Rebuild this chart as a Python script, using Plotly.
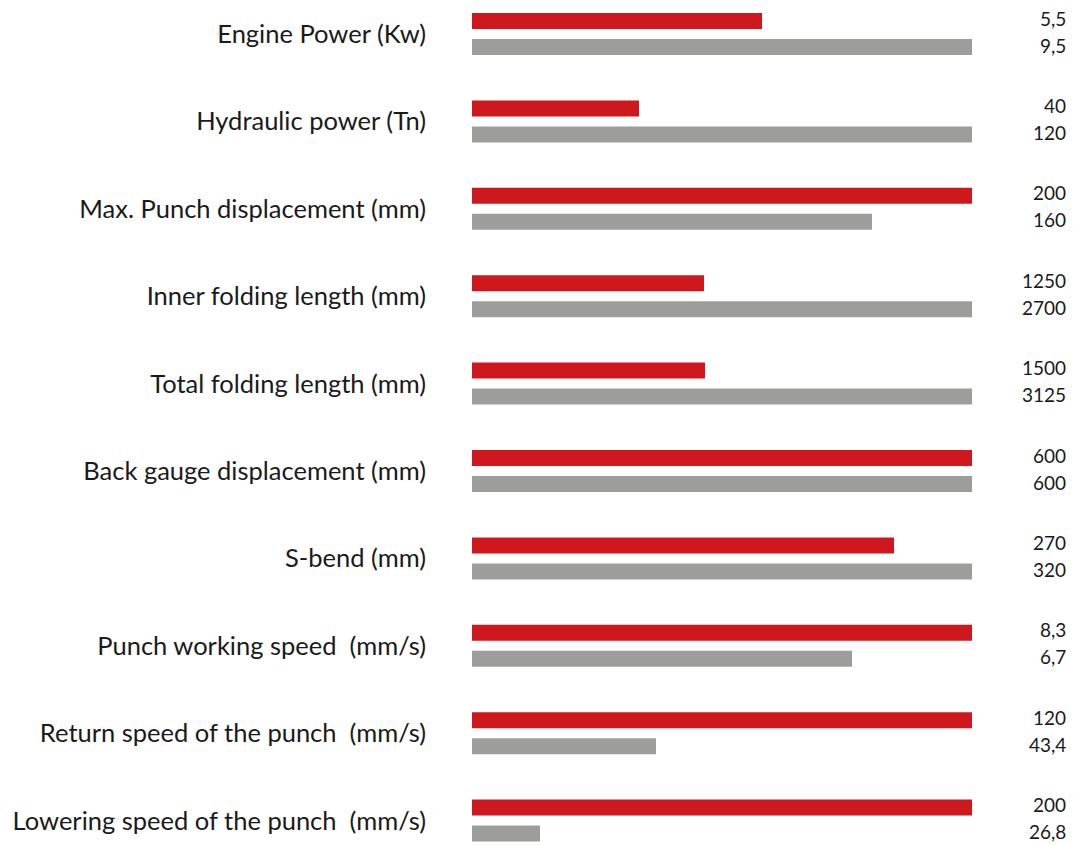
import plotly.graph_objects as go

categories = [
    "Engine Power (Kw)",
    "Hydraulic power (Tn)",
    "Max. Punch displacement (mm)",
    "Inner folding length (mm)",
    "Total folding length (mm)",
    "Back gauge displacement (mm)",
    "S-bend (mm)",
    "Punch working speed  (mm/s)",
    "Return speed of the punch  (mm/s)",
    "Lowering speed of the punch  (mm/s)",
]

# displayed values
red_labels = ["5,5", "40", "200", "1250", "1500", "600", "270", "8,3", "120", "200"]
gray_labels = ["9,5", "120", "160", "2700", "3125", "600", "320", "6,7", "43,4", "26,8"]

# bar lengths (% of the longest bar in each pair)
red_pct = [58.0, 33.4, 100, 46.4, 46.6, 100, 84.4, 100, 100, 100]
gray_pct = [100, 100, 80.0, 100, 100, 100, 100, 76.0, 36.8, 13.6]

RED = "#CF181D"
GRAY = "#9D9D9C"
TEXT = "#1A1A1A"
FONT = "Lato"

fig = go.Figure()
fig.add_trace(go.Bar(y=categories, x=red_pct, orientation="h",
                     marker=dict(color=RED, line=dict(width=0)), hoverinfo="skip"))
fig.add_trace(go.Bar(y=categories, x=gray_pct, orientation="h",
                     marker=dict(color=GRAY, line=dict(width=0)), hoverinfo="skip"))

annotations = []
for cat, rl, gl in zip(categories, red_labels, gray_labels):
    annotations.append(dict(x=1.192, xref="paper", y=cat, yref="y", text=rl,
                            showarrow=False, xanchor="right", yanchor="middle",
                            yshift=16, font=dict(family=FONT, size=19, color=TEXT)))
    annotations.append(dict(x=1.192, xref="paper", y=cat, yref="y", text=gl,
                            showarrow=False, xanchor="right", yanchor="middle",
                            yshift=-11, font=dict(family=FONT, size=19, color=TEXT)))

fig.update_layout(
    width=1077, height=845,
    margin=dict(l=472, r=105, t=0, b=0, pad=0),
    paper_bgcolor="white", plot_bgcolor="white",
    barmode="group", bargap=0.405, bargroupgap=0.385,
    showlegend=False,
    annotations=annotations,
    xaxis=dict(range=[0, 100], visible=False, fixedrange=True),
    yaxis=dict(type="category", range=[9.279, -0.389], showgrid=False,
               zeroline=False, showline=False, ticks="",
               ticklabelstandoff=45,
               tickfont=dict(family=FONT, size=25.5, color=TEXT)),
)

fig.write_html(
    "out.html",
    config={"displayModeBar": False},
    post_script="document.body.style.margin='0';document.body.style.overflow='hidden';",
)
